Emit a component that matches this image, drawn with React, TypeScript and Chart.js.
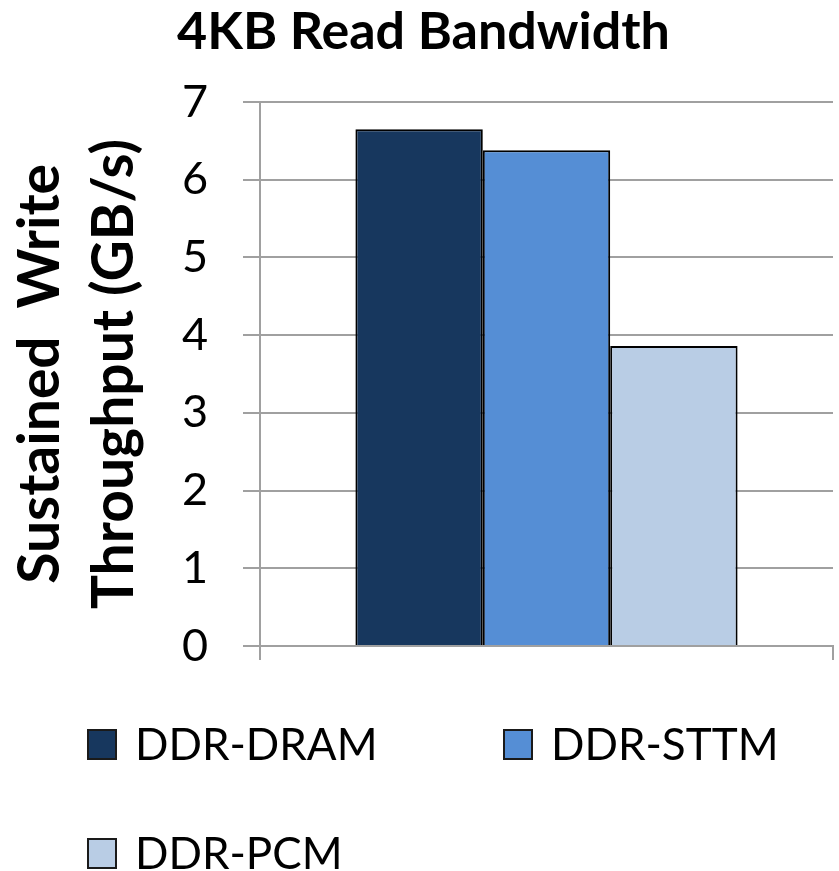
import { useEffect, useRef } from 'react';
import { Chart, registerables } from 'chart.js';

Chart.register(...registerables);

const categories = [''];
const seriesNames = ['DDR-DRAM', 'DDR-STTM', 'DDR-PCM'];
const dramValues = [6.65];
const sttmValues = [6.38];
const pcmValues = [3.86];
const yTicks = [0, 1, 2, 3, 4, 5, 6, 7];
const chartTitle = '4KB Read Bandwidth';
const yTitle = ['Sustained  Write', 'Throughput (GB/s)'];
const seriesColors = ['#17375E', '#558ED5', '#B9CDE5'];

const FONT = 'Lato';
const GRID = '#A0A0A0';

const legendPlugin = {
  id: 'gridLegend',
  afterDraw(chart: any) {
    const ctx = chart.ctx as CanvasRenderingContext2D;
    const slots = [
      [87, 729],
      [503, 729],
      [87, 838],
    ];
    ctx.save();
    ctx.font = `44px ${FONT}`;
    ctx.textBaseline = 'alphabetic';
    ctx.textAlign = 'left';
    chart.data.datasets.forEach((ds: any, i: number) => {
      const [x, y] = slots[i];
      ctx.fillStyle = ds.backgroundColor;
      ctx.fillRect(x, y, 30, 31);
      ctx.lineWidth = 2;
      ctx.strokeStyle = '#1a1a1a';
      ctx.strokeRect(x + 1, y + 1, 28, 29);
      ctx.fillStyle = '#000';
      ctx.fillText(ds.label, x + 48, y + 31);
    });
    ctx.restore();
  },
};

export default function App() {
  const canvasRef = useRef<HTMLCanvasElement | null>(null);

  useEffect(() => {
    if (!canvasRef.current) return;
    const valueSets = [dramValues, sttmValues, pcmValues];
    const chart = new Chart(canvasRef.current, {
      type: 'bar',
      data: {
        labels: categories,
        datasets: seriesNames.map((name, i) => ({
          label: name,
          data: valueSets[i],
          backgroundColor: seriesColors[i],
          borderColor: '#000',
          borderWidth: 2,
          categoryPercentage: 0.667,
          barPercentage: 1,
        })),
      },
      options: {
        animation: false,
        responsive: true,
        maintainAspectRatio: false,
        layout: { padding: { left: 14, right: 6, top: 0, bottom: 205 } },
        plugins: {
          legend: { display: false },
          tooltip: { enabled: false },
          title: {
            display: true,
            text: chartTitle,
            color: '#000',
            font: { family: FONT, size: 52, weight: 'bold', lineHeight: 1.2 },
            padding: { top: 1.3, bottom: 38.3 },
          },
        },
        scales: {
          x: {
            offset: true,
            grid: {
              display: true,
              drawOnChartArea: false,
              drawTicks: true,
              tickLength: 14,
              offset: true,
              color: GRID,
              lineWidth: 2,
            },
            border: { color: GRID, width: 2 },
            ticks: { display: false },
            afterFit: (s: any) => {
              s.height = 20;
            },
          },
          y: {
            min: 0,
            max: 7,
            afterBuildTicks: (s: any) => {
              s.ticks = yTicks.map((v) => ({ value: v }));
            },
            ticks: {
              padding: 35,
              color: '#000',
              font: { family: FONT, size: 45 },
            },
            grid: { color: GRID, lineWidth: 2, tickLength: 17, tickColor: GRID },
            border: { color: GRID, width: 2 },
            title: {
              display: true,
              text: yTitle,
              color: '#000',
              font: { family: FONT, size: 57, weight: 'bold', lineHeight: 1.3 },
              padding: { top: -10.5, bottom: 0 },
            },
            afterFit: (s: any) => {
              s.width = 246;
            },
          },
        },
      },
      plugins: [legendPlugin],
    });
    return () => chart.destroy();
  }, []);

  return (
    <div style={{ position: 'fixed', left: 0, top: 0, width: 839, height: 871, background: '#fff' }}>
      <canvas ref={canvasRef} />
    </div>
  );
}
